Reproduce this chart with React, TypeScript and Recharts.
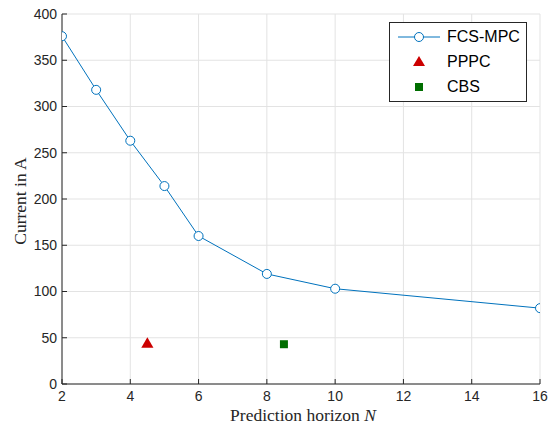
import {
  ComposedChart,
  Line,
  Scatter,
  XAxis,
  YAxis,
  CartesianGrid,
  Legend,
} from "recharts";

const horizons = [2, 3, 4, 5, 6, 8, 10, 16];
const fcsMpcCurrent = [376, 318, 263, 214, 160, 119, 103, 82];
const ppccPoint = { n: 4.5, current: 43 };
const cbsPoint = { n: 8.5, current: 43 };

const xTicks = [2, 4, 6, 8, 10, 12, 14, 16];
const yTicks = [0, 50, 100, 150, 200, 250, 300, 350, 400];

const fcsData = horizons.map((n, i) => ({ n, current: fcsMpcCurrent[i] }));

const axisColor = "#262626";
const tickFont = { fontFamily: "Liberation Sans, Arial, sans-serif", fontSize: 14, fill: axisColor };
const serif = "Liberation Serif, Times New Roman, serif";

function LegendBox() {
  const row = (icon: React.ReactNode, label: string) => (
    <div style={{ display: "flex", alignItems: "center", height: 25 }}>
      <svg width={56} height={20} style={{ marginRight: 1 }}>
        {icon}
      </svg>
      <span>{label}</span>
    </div>
  );
  return (
    <div
      style={{
        border: `1px solid ${axisColor}`,
        background: "#fff",
        padding: "1px 0 2px 0",
        fontFamily: "Liberation Sans, Arial, sans-serif",
        fontSize: 16,
        color: "#000",
        width: 138,
        boxSizing: "border-box",
      }}
    >
      {row(
        <g>
          <line x1={8} y1={10} x2={50} y2={10} stroke="#0072BD" strokeWidth={1} />
          <circle cx={29} cy={10} r={4.5} fill="#fff" stroke="#0072BD" />
        </g>,
        "FCS-MPC"
      )}
      {row(<polygon points="29,4 35,14 23,14" fill="#cc0000" />, "PPPC")}
      {row(<rect x={25} y={6} width={8} height={8} fill="#006e00" />, "CBS")}
    </div>
  );
}

export default function App() {
  return (
    <div style={{ position: "absolute", left: 0, top: 0, background: "#fff" }}>
      <ComposedChart width={551} height={430} margin={{ top: 14, right: 11, left: 2, bottom: 16 }}>
        <CartesianGrid stroke="#e3e3e3" strokeWidth={1} />
        <XAxis
          xAxisId={0}
          type="number"
          dataKey="n"
          domain={[2, 16]}
          ticks={xTicks}
          tick={tickFont}
          tickSize={-5}
          tickMargin={12}
          height={30}
          stroke={axisColor}
          allowDataOverflow
          label={{
            position: "bottom",
            content: (props: any) => {
              const vb = props.viewBox;
              return (
                <text
                  x={vb.x + vb.width / 2 + 2}
                  y={421}
                  textAnchor="middle"
                  fontFamily={serif}
                  fontSize={17.5}
                  fill={axisColor}
                >
                  Prediction horizon <tspan fontStyle="italic">N</tspan>
                </text>
              );
            },
          }}
        />
        <XAxis
          xAxisId="top"
          orientation="top"
          type="number"
          domain={[2, 16]}
          ticks={xTicks}
          tick={() => <g />}
          tickSize={-5}
          height={0}
          stroke={axisColor}
        />
        <YAxis
          yAxisId={0}
          type="number"
          domain={[0, 400]}
          ticks={yTicks}
          tick={tickFont}
          tickSize={-5}
          tickMargin={10}
          width={60}
          stroke={axisColor}
          label={{
            position: "left",
            content: () => (
              <text
                x={26}
                y={201}
                transform="rotate(-90 26 201)"
                textAnchor="middle"
                fontFamily={serif}
                fontSize={17.5}
                fill={axisColor}
              >
                Current in A
              </text>
            ),
          }}
        />
        <YAxis
          yAxisId="right"
          orientation="right"
          type="number"
          domain={[0, 400]}
          ticks={yTicks}
          tick={() => <g />}
          tickSize={-5}
          width={0}
          stroke={axisColor}
        />
        <Legend
          layout="vertical"
          align="center"
          verticalAlign="middle"
          wrapperStyle={{ left: 389, top: 22, width: 138 }}
          content={() => <LegendBox />}
        />
        <Line
          data={fcsData}
          dataKey="current"
          name="FCS-MPC"
          stroke="#0072BD"
          strokeWidth={1}
          dot={{ r: 4.5, fill: "#fff", stroke: "#0072BD", strokeWidth: 1 }}
          activeDot={false}
          isAnimationActive={false}
        />
        <Scatter
          data={[ppccPoint]}
          dataKey="current"
          name="PPPC"
          shape="triangle"
          fill="#cc0000"
          isAnimationActive={false}
        />
        <Scatter
          data={[cbsPoint]}
          dataKey="current"
          name="CBS"
          shape="square"
          fill="#006e00"
          isAnimationActive={false}
        />
      </ComposedChart>
    </div>
  );
}
